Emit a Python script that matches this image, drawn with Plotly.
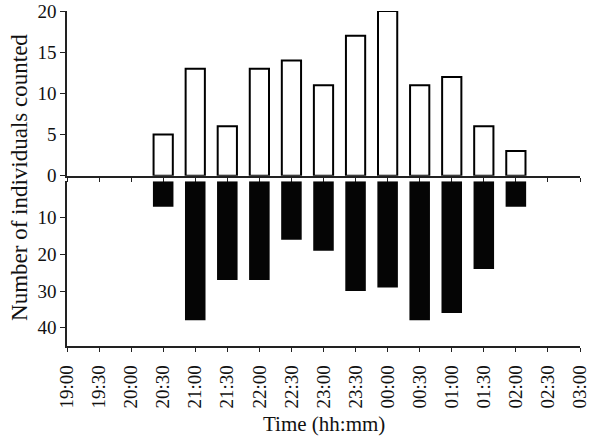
import plotly.graph_objects as go

times = ["19:00", "19:30", "20:00", "20:30", "21:00", "21:30", "22:00", "22:30",
         "23:00", "23:30", "00:00", "00:30", "01:00", "01:30", "02:00", "02:30", "03:00"]
upper_counts = [None, None, None, 5, 13, 6, 13, 14, 11, 17, 20, 11, 12, 6, 3, None, None]
lower_counts = [None, None, None, 7, 38, 27, 27, 16, 19, 30, 29, 38, 36, 24, 7, None, None]
upper_ticks = [0, 5, 10, 15, 20]
lower_ticks = [10, 20, 30, 40]

FONT = "Liberation Serif"
AX = "#222222"

fig = go.Figure()
fig.add_trace(go.Bar(
    x=times, y=upper_counts, xaxis="x", yaxis="y", width=0.6,
    marker=dict(color="white", line=dict(color="black", width=2)),
    showlegend=False, hoverinfo="x+y"))
fig.add_trace(go.Bar(
    x=times, y=lower_counts, xaxis="x2", yaxis="y2", width=0.64,
    marker=dict(color="#050505", line=dict(width=0)),
    showlegend=False, hoverinfo="x+y"))

common_x = dict(type="category", range=[0, 16], showline=True, linecolor=AX, linewidth=1.5,
                ticks="outside", ticklen=4, tickcolor=AX, tickwidth=1.2, showgrid=False,
                zeroline=False, categoryorder="array", categoryarray=times, automargin=False)
common_y = dict(showline=True, linecolor=AX, linewidth=1.5, ticks="outside", ticklen=5,
                tickcolor=AX, tickwidth=1.2, showgrid=False, zeroline=False, automargin=False,
                tickfont=dict(family=FONT, size=19, color="#111"))

fig.update_layout(
    width=589, height=441,
    margin=dict(l=67, r=9, t=11, b=95),
    paper_bgcolor="white", plot_bgcolor="white",
    bargap=0.3,
    font=dict(family=FONT, size=19, color="#111"),
    xaxis=dict(domain=[0, 1], anchor="y", showticklabels=False, **common_x),
    yaxis=dict(domain=[0.508, 1], anchor="x", range=[0, 20], tickvals=upper_ticks, **common_y),
    xaxis2=dict(domain=[0, 1], anchor="y2", showticklabels=True, tickangle=-90,
                tickfont=dict(family=FONT, size=19, color="#111"), ticklabelstandoff=6, **common_x),
    yaxis2=dict(domain=[0, 0.492], anchor="x2", range=[45, 0], tickvals=lower_ticks, **common_y),
    annotations=[
        dict(text="Time (hh:mm)", xref="paper", yref="paper", x=0.5, y=-0.233,
             xanchor="center", yanchor="middle", showarrow=False,
             font=dict(family=FONT, size=21, color="#111")),
        dict(text="Number of individuals counted", xref="paper", yref="paper", x=-0.094, y=0.504,
             xanchor="center", yanchor="middle", showarrow=False, textangle=-90,
             font=dict(family=FONT, size=23, color="#111")),
    ],
)

fig.write_html("out.html")
